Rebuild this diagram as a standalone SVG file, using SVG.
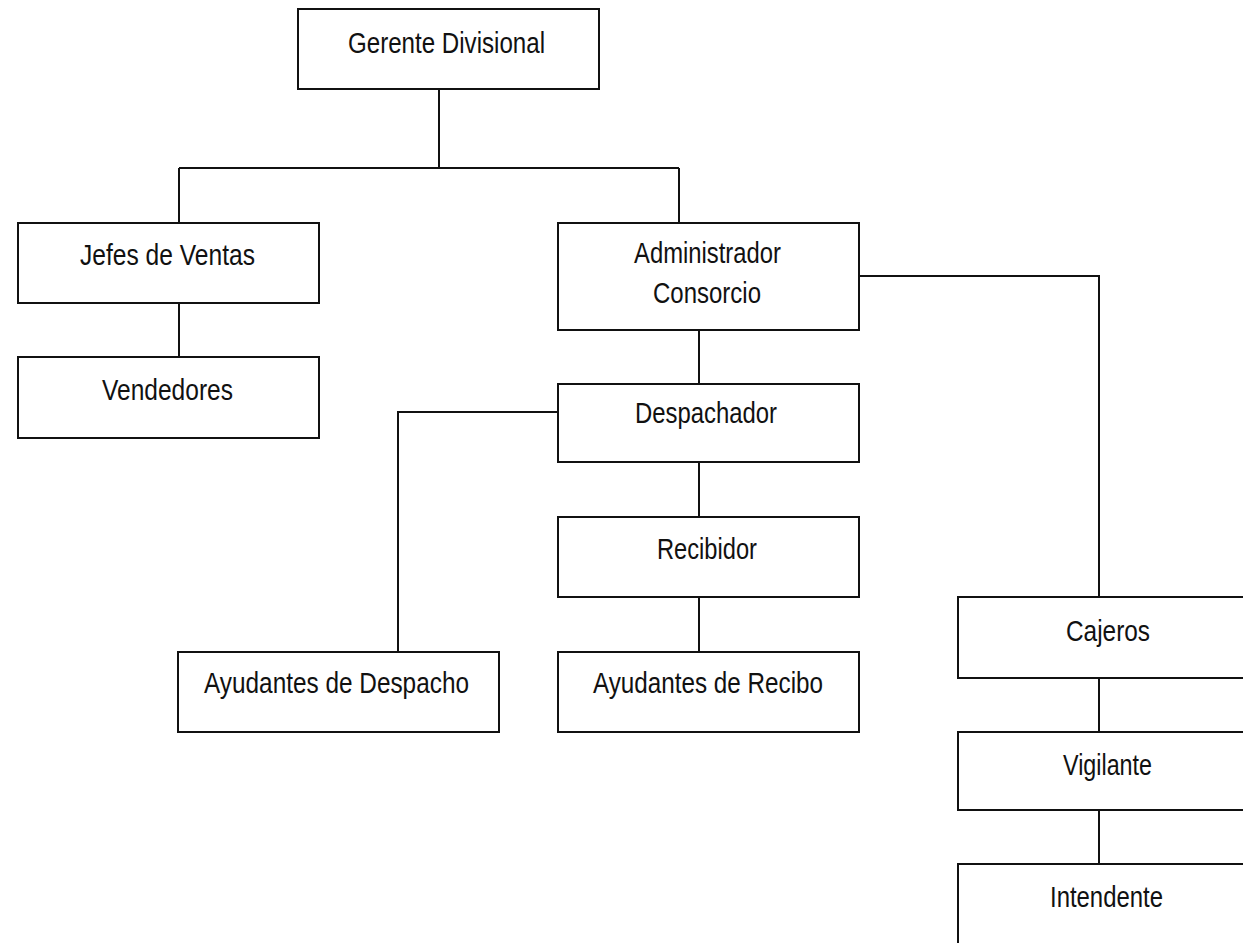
<svg xmlns="http://www.w3.org/2000/svg" width="1243" height="943" viewBox="0 0 1243 943">
<style>
.box{fill:#fff;stroke:#111;stroke-width:2}
.lbl{font-family:"Liberation Sans",Arial,sans-serif;font-size:29px;fill:#111}
.con{fill:none;stroke:#111;stroke-width:2}
</style>
<rect width="1243" height="943" fill="#fff"/>
<g id="connectors">
<path class="con" d="M439,89 V168 M179,168 H679 M179,168 V223 M679,168 V223"/>
<path class="con" d="M179,303 V357"/>
<path class="con" d="M699,330 V384 M699,462 V517 M699,597 V652"/>
<path class="con" d="M558,412 H398 V652"/>
<path class="con" d="M859,276 H1099 V597 M1099,678 V732 M1099,810 V864"/>
</g>
<g id="gerente"><rect class="box" x="298" y="9" width="301" height="80"/><text class="lbl" x="348" y="53" textLength="197" lengthAdjust="spacingAndGlyphs">Gerente Divisional</text></g>
<g id="jefes"><rect class="box" x="18" y="223" width="301" height="80"/><text class="lbl" x="80" y="265" textLength="175" lengthAdjust="spacingAndGlyphs">Jefes de Ventas</text></g>
<g id="vendedores"><rect class="box" x="18" y="357" width="301" height="81"/><text class="lbl" x="102" y="400" textLength="131" lengthAdjust="spacingAndGlyphs">Vendedores</text></g>
<g id="administrador"><rect class="box" x="558" y="223" width="301" height="107"/><text class="lbl" x="634" y="263" textLength="147" lengthAdjust="spacingAndGlyphs">Administrador</text><text class="lbl" x="653" y="303" textLength="108" lengthAdjust="spacingAndGlyphs">Consorcio</text></g>
<g id="despachador"><rect class="box" x="558" y="384" width="301" height="78"/><text class="lbl" x="635" y="423" textLength="142" lengthAdjust="spacingAndGlyphs">Despachador</text></g>
<g id="recibidor"><rect class="box" x="558" y="517" width="301" height="80"/><text class="lbl" x="657" y="559" textLength="100" lengthAdjust="spacingAndGlyphs">Recibidor</text></g>
<g id="ayudantes-recibo"><rect class="box" x="558" y="652" width="301" height="80"/><text class="lbl" x="593" y="693" textLength="230" lengthAdjust="spacingAndGlyphs">Ayudantes de Recibo</text></g>
<g id="ayudantes-despacho"><rect class="box" x="178" y="652" width="321" height="80"/><text class="lbl" x="204" y="693" textLength="265" lengthAdjust="spacingAndGlyphs">Ayudantes de Despacho</text></g>
<g id="cajeros"><rect class="box" x="958" y="597" width="301" height="81"/><text class="lbl" x="1066" y="641" textLength="84" lengthAdjust="spacingAndGlyphs">Cajeros</text></g>
<g id="vigilante"><rect class="box" x="958" y="732" width="301" height="78"/><text class="lbl" x="1063" y="775" textLength="89" lengthAdjust="spacingAndGlyphs">Vigilante</text></g>
<g id="intendente"><rect class="box" x="958" y="864" width="301" height="100"/><text class="lbl" x="1050" y="907" textLength="113" lengthAdjust="spacingAndGlyphs">Intendente</text></g>
</svg>
